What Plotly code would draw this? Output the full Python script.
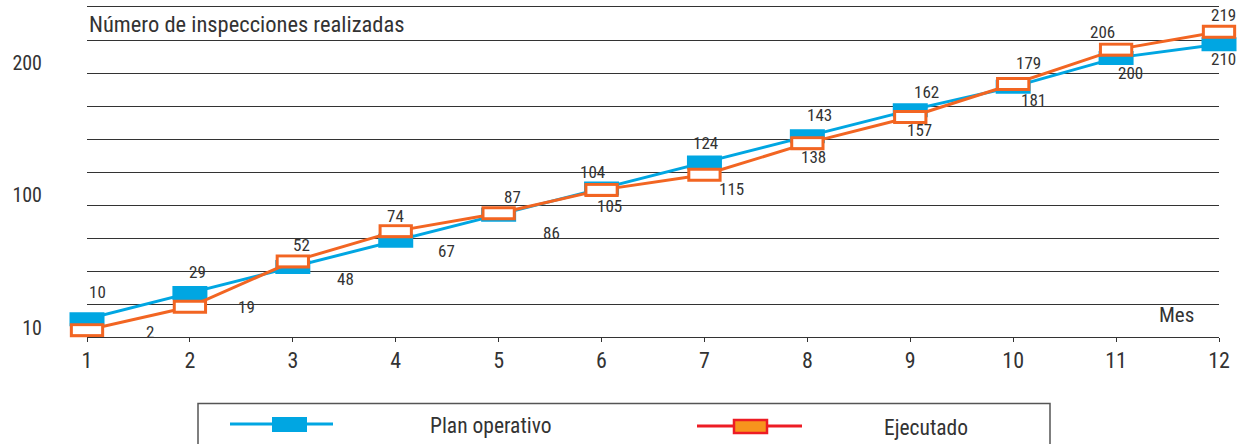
import plotly.graph_objects as go

# ---------------- data ----------------
months = list(range(1, 13))
x_tick_labels = [str(m) for m in months]
plan_operativo = [10, 29, 48, 67, 86, 105, 124, 143, 162, 179, 200, 210]
ejecutado = [2, 19, 52, 74, 87, 104, 115, 138, 157, 181, 206, 219]
y_tick_labels = ["10", "100", "200"]
y_tick_positions = [3.5, 100, 196]

title_text = "Número de inspecciones realizadas"
x_title_text = "Mes"
series_names = ["Plan operativo", "Ejecutado"]

# ---------------- style ----------------
FONT = "Liberation Sans Narrow, Arial Narrow, Roboto Condensed, Arial, sans-serif"
TXT = "#333333"
GRID = "#333333"
BLUE = "#00a6e2"
ORANGE = "#f26522"
LEG_RED = "#ed1c24"
LEG_ORANGE = "#f7941d"

W, H = 1245, 444
L, R, T, B = 87, 26, 7, 107
PW, PH = W - L - R, H - T - B

# label offsets in px (dx right, dy up)
plan_label_offsets = [(10, 27), (8, 21), (53, -12), (51, -10), (53, -18), (8, -17),
                      (1, 19), (12, 21), (16, 18), (15, 24), (14, -15), (4, -15)]
exec_label_offsets = [(63, -2), (57, 0), (9, 16), (0, 15), (14, 16), (-9, 18),
                      (27, -14), (6, -14), (9, -13), (20, -16), (-14, 18), (4, 17)]


def pxx(x):
    return (x - L) / PW


def pyy(y):
    return (T + PH - y) / PH


fig = go.Figure()

# Plan operativo: line + filled rectangles
fig.add_trace(go.Scatter(
    x=months, y=plan_operativo, mode="lines+markers", name=series_names[0],
    line=dict(color=BLUE, width=3),
    marker=dict(symbol="line-ew", size=25, color=BLUE, line=dict(color=BLUE, width=14)),
    cliponaxis=False, hoverinfo="skip", showlegend=False))

# Ejecutado: line + hollow rectangles
fig.add_trace(go.Scatter(
    x=months, y=ejecutado, mode="lines", name=series_names[1],
    line=dict(color=ORANGE, width=3), cliponaxis=False, hoverinfo="skip", showlegend=False))
fig.add_trace(go.Scatter(
    x=months, y=ejecutado, mode="markers",
    marker=dict(symbol="line-ew", size=24.5, color=ORANGE, line=dict(color=ORANGE, width=14)),
    cliponaxis=False, hoverinfo="skip", showlegend=False))
fig.add_trace(go.Scatter(
    x=months, y=ejecutado, mode="markers",
    marker=dict(symbol="line-ew", size=20.2, color="white", line=dict(color="white", width=8)),
    cliponaxis=False, hoverinfo="skip", showlegend=False))

annotations = []
for m, v, (dx, dy) in zip(months, plan_operativo, plan_label_offsets):
    annotations.append(dict(x=m, y=v, text=str(v), showarrow=False, xshift=dx, yshift=dy,
                            font=dict(family=FONT, size=17, color=TXT)))
for m, v, (dx, dy) in zip(months, ejecutado, exec_label_offsets):
    annotations.append(dict(x=m, y=v, text=str(v), showarrow=False, xshift=dx, yshift=dy,
                            font=dict(family=FONT, size=17, color=TXT)))

annotations.append(dict(xref="paper", yref="paper", x=pxx(87), y=pyy(24), xanchor="left",
                        yanchor="middle", text=title_text, showarrow=False,
                        font=dict(family=FONT, size=22.5, color=TXT)))
annotations.append(dict(xref="paper", yref="paper", x=pxx(1176), y=pyy(315), xanchor="center",
                        yanchor="middle", text=x_title_text, showarrow=False,
                        font=dict(family=FONT, size=21, color=TXT)))

# custom legend
shapes = [
    dict(type="rect", xref="paper", yref="paper", x0=pxx(198), x1=pxx(1050), y0=pyy(470), y1=pyy(403.5),
         line=dict(color="#555555", width=1.5), fillcolor="rgba(0,0,0,0)"),
    dict(type="line", xref="paper", yref="paper", x0=pxx(230), x1=pxx(333), y0=pyy(424), y1=pyy(424),
         line=dict(color=BLUE, width=3)),
    dict(type="rect", xref="paper", yref="paper", x0=pxx(272), x1=pxx(307), y0=pyy(432), y1=pyy(417),
         line=dict(color=BLUE, width=0), fillcolor=BLUE),
    dict(type="line", xref="paper", yref="paper", x0=pxx(697), x1=pxx(802), y0=pyy(426), y1=pyy(426),
         line=dict(color=LEG_RED, width=3)),
    dict(type="rect", xref="paper", yref="paper", x0=pxx(734), x1=pxx(767), y0=pyy(433), y1=pyy(420),
         line=dict(color=LEG_RED, width=2.5), fillcolor=LEG_ORANGE),
]
annotations.append(dict(xref="paper", yref="paper", x=pxx(428), y=pyy(425), xanchor="left",
                        yanchor="middle", text=series_names[0], showarrow=False,
                        font=dict(family=FONT, size=21.5, color=TXT)))
annotations.append(dict(xref="paper", yref="paper", x=pxx(882), y=pyy(427), xanchor="left",
                        yanchor="middle", text=series_names[1], showarrow=False,
                        font=dict(family=FONT, size=21.5, color=TXT)))

fig.update_layout(
    width=W, height=H,
    margin=dict(l=L, r=R, t=T, b=B, pad=0),
    paper_bgcolor="white", plot_bgcolor="white",
    showlegend=False,
    annotations=annotations,
    shapes=shapes,
    xaxis=dict(range=[1, 12], tickmode="array", tickvals=months, ticktext=x_tick_labels,
               ticks="outside", ticklen=4, tickcolor=GRID, tickwidth=1,
               showline=True, linecolor=GRID, linewidth=1, mirror=True,
               showgrid=False, zeroline=False,
               tickfont=dict(family=FONT, size=22, color=TXT)),
    yaxis=dict(range=[-3, 237], tickmode="array", tickvals=y_tick_positions, ticktext=y_tick_labels,
               ticks="", showgrid=False, zeroline=False, showline=False,
               minor=dict(showgrid=True, tick0=-3, dtick=24, gridcolor=GRID, gridwidth=1),
               ticklabelstandoff=44,
               tickfont=dict(family=FONT, size=20, color=TXT)),
)

fig.write_html("out.html", config={"displayModeBar": False},
               post_script="document.body.style.margin='0';document.body.style.overflow='hidden';")
